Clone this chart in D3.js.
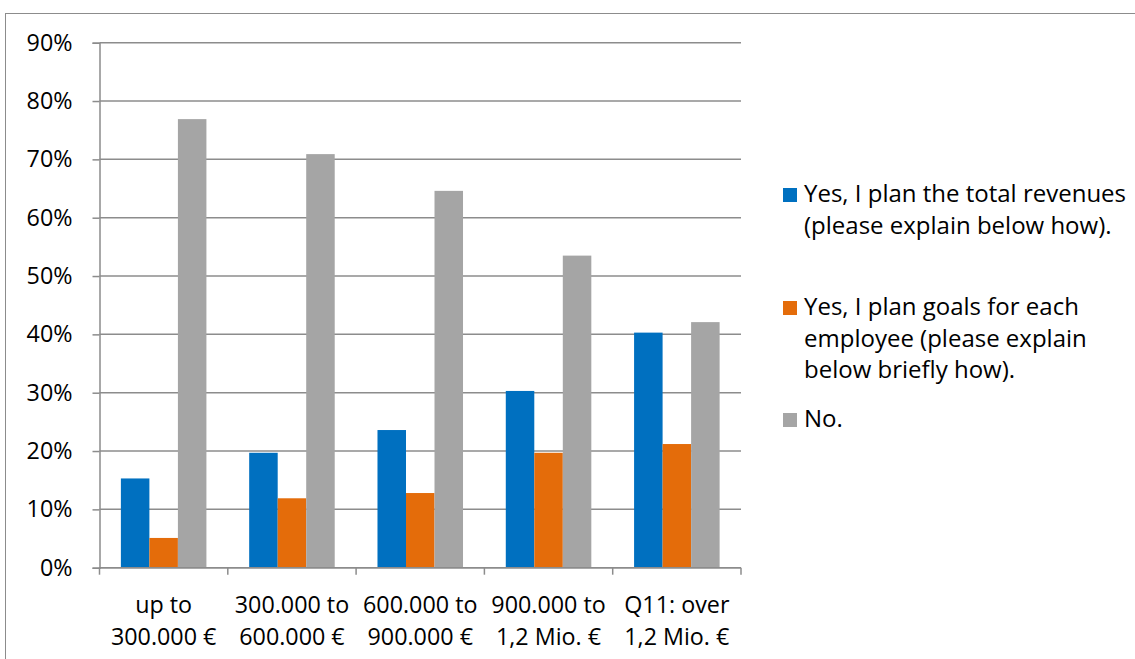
<!DOCTYPE html>
<html>
<head>
<meta charset="utf-8">
<script src="https://cdn.jsdelivr.net/npm/d3@7"></script>
<style>
  html, body { margin: 0; padding: 0; background: #fff; }
  svg text { font-family: "Open Sans", Lato, sans-serif; fill: #000; }
</style>
</head>
<body>
<svg id="chart" width="1135" height="659"></svg>
<script>
// Revenue size classes on the x axis
const categories = [
  ["up to", "300.000 €"],
  ["300.000 to", "600.000 €"],
  ["600.000 to", "900.000 €"],
  ["900.000 to", "1,2 Mio. €"],
  ["Q11: over", "1,2 Mio. €"]
];

// Share of answers per size class (%)
const planRevenues = [15.3, 19.7, 23.6, 30.3, 40.3];
const planEmployeeGoals = [5.1, 11.9, 12.8, 19.7, 21.2];
const noPlanning = [76.9, 70.9, 64.6, 53.5, 42.1];

const seriesNames = [
  ["Yes, I plan the total revenues", "(please explain below how)."],
  ["Yes, I plan goals for each", "employee (please explain", "below briefly how)."],
  ["No."]
];
const seriesColors = ["#0070C0", "#E46C0A", "#A5A5A5"];
const yTicks = [0, 10, 20, 30, 40, 50, 60, 70, 80, 90];

const series = [planRevenues, planEmployeeGoals, noPlanning];

const FONT_SIZE = 23.3;
const LINE_GAP = 31.5;

const svg = d3.select("#chart");

// outer chart frame
svg.append("rect")
  .attr("x", 5.5).attr("y", 13.5)
  .attr("width", 1140).attr("height", 660)
  .attr("fill", "none").attr("stroke", "#8c8c8c").attr("stroke-width", 1);

const plot = { left: 99.5, right: 741, top: 42.7, bottom: 567.7 };

const x0 = d3.scaleBand()
  .domain(d3.range(categories.length))
  .range([plot.left, plot.right])
  .paddingInner(0).paddingOuter(0);

const barW = x0.bandwidth() / 4.5;

const y = d3.scaleLinear().domain([0, 90]).range([plot.bottom, plot.top]);

// horizontal gridlines
svg.append("g")
  .selectAll("line")
  .data(yTicks)
  .join("line")
  .attr("x1", plot.left).attr("x2", plot.right)
  .attr("y1", d => y(d)).attr("y2", d => y(d))
  .attr("stroke", "#8c8c8c").attr("stroke-width", 1.5);

// bars
const groups = svg.append("g")
  .selectAll("g")
  .data(series)
  .join("g")
  .attr("fill", (d, i) => seriesColors[i]);

groups.each(function(vals, si) {
  d3.select(this).selectAll("rect")
    .data(vals)
    .join("rect")
    .attr("x", (d, ci) => x0(ci) + barW * 0.75 + si * barW)
    .attr("width", barW)
    .attr("y", d => y(d))
    .attr("height", d => y(0) - y(d));
});

// y axis
const yAxis = d3.axisLeft(y)
  .tickValues(yTicks)
  .tickSize(7)
  .tickPadding(20)
  .tickFormat(d => d + "%");

const gy = svg.append("g")
  .attr("transform", `translate(${plot.left},0)`)
  .call(yAxis);
gy.select(".domain").attr("stroke", "#8c8c8c").attr("stroke-width", 1.5);
gy.selectAll(".tick line").attr("stroke", "#8c8c8c").attr("stroke-width", 1.5);
gy.selectAll(".tick text")
  .attr("font-size", FONT_SIZE)
  .attr("font-family", "'Open Sans', Lato, sans-serif")
  .attr("fill", "#000");

// x axis: ticks on the category boundaries
const xAxis = svg.append("g");
xAxis.append("line")
  .attr("x1", plot.left).attr("x2", plot.right)
  .attr("y1", plot.bottom).attr("y2", plot.bottom)
  .attr("stroke", "#8c8c8c").attr("stroke-width", 1.5);
xAxis.selectAll("line.tick")
  .data(d3.range(categories.length + 1))
  .join("line")
  .attr("class", "tick")
  .attr("x1", i => plot.left + i * x0.bandwidth())
  .attr("x2", i => plot.left + i * x0.bandwidth())
  .attr("y1", plot.bottom).attr("y2", plot.bottom + 7)
  .attr("stroke", "#8c8c8c").attr("stroke-width", 1.5);

xAxis.selectAll("text")
  .data(categories)
  .join("text")
  .attr("text-anchor", "middle")
  .attr("font-size", FONT_SIZE)
  .attr("x", (d, i) => x0(i) + x0.bandwidth() / 2)
  .attr("y", 613)
  .each(function(lines) {
    d3.select(this).selectAll("tspan")
      .data(lines)
      .join("tspan")
      .attr("x", d3.select(this).attr("x"))
      .attr("dy", (l, j) => j === 0 ? 0 : LINE_GAP)
      .text(l => l);
  });

// legend
const legendY = [202, 315, 427];
const legend = svg.append("g");
seriesNames.forEach((lines, i) => {
  legend.append("rect")
    .attr("x", 783).attr("y", legendY[i] - 14)
    .attr("width", 14).attr("height", 14)
    .attr("fill", seriesColors[i]);
  const t = legend.append("text")
    .attr("x", 804).attr("y", legendY[i])
    .attr("font-size", 24);
  t.selectAll("tspan")
    .data(lines)
    .join("tspan")
    .attr("x", 804)
    .attr("dy", (l, j) => j === 0 ? 0 : LINE_GAP)
    .text(l => l);
});
</script>
</body>
</html>
